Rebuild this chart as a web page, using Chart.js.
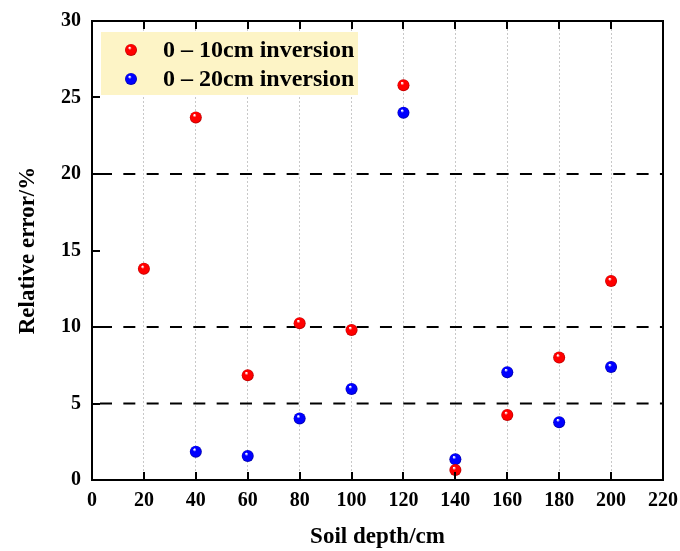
<!DOCTYPE html>
<html>
<head>
<meta charset="utf-8">
<script src="https://cdn.jsdelivr.net/npm/chart.js@4/dist/chart.umd.min.js"></script>
<style>
  html, body { margin: 0; background: #fff; }
  #wrap { width: 680px; height: 551px; }
</style>
</head>
<body>
<div id="wrap"><canvas id="chart"></canvas></div>
<script>
// ── Data ──────────────────────────────────────────────────────
const depths10 = [20, 40, 60, 80, 100, 120, 140, 160, 180, 200];
const err10    = [13.8, 23.7, 6.85, 10.25, 9.8, 25.8, 0.65, 4.25, 8.0, 13.0];

const depths20 = [40, 60, 80, 100, 120, 140, 160, 180, 200];
const err20    = [1.85, 1.57, 4.02, 5.95, 24.0, 1.35, 7.05, 3.78, 7.38];

const refLines = [5, 10, 20];          // dashed horizontal guides

const xMin = 0, xMax = 220, xStep = 20;
const yMin = 0, yMax = 30,  yStep = 5;

const FONT = '"Liberation Serif", "Times New Roman", serif';

// ── Shaded "sphere" fill for the markers ──────────────────────
function sphere(ctx, x, y, r, base, edge) {
  const g = ctx.createRadialGradient(x - r * 0.25, y - r * 0.4, r * 0.08, x, y, r);
  g.addColorStop(0,    '#ffffff');
  g.addColorStop(0.25, base);
  g.addColorStop(0.8,  base);
  g.addColorStop(1,    edge);
  return g;
}

function sphereFill(base, edge) {
  return function (c) {
    const chart = c.chart;
    if (!c.parsed || !chart.scales.x) return base;
    const px = chart.scales.x.getPixelForValue(c.parsed.x);
    const py = chart.scales.y.getPixelForValue(c.parsed.y);
    if (!isFinite(px) || !isFinite(py)) return base;
    return sphere(chart.ctx, px, py, 6, base, edge);
  };
}

const series = [
  { label: '0 – 10cm inversion', xs: depths10, ys: err10, base: '#ff0000', edge: '#b00000' },
  { label: '0 – 20cm inversion', xs: depths20, ys: err20, base: '#0000ff', edge: '#0000a0' },
];

// ── Frame, inward ticks and in-plot legend ────────────────────
const framePlugin = {
  id: 'frame',
  afterDraw(chart) {
    const { ctx, chartArea: a, scales: { x, y } } = chart;
    ctx.save();
    ctx.strokeStyle = '#000';
    ctx.lineWidth = 2;
    ctx.strokeRect(a.left, a.top, a.right - a.left, a.bottom - a.top);

    ctx.beginPath();
    x.ticks.forEach(t => {
      const px = Math.round(x.getPixelForValue(t.value));
      ctx.moveTo(px, a.bottom); ctx.lineTo(px, a.bottom - 8);
      ctx.moveTo(px, a.top);    ctx.lineTo(px, a.top + 8);
    });
    y.ticks.forEach(t => {
      const py = Math.round(y.getPixelForValue(t.value));
      ctx.moveTo(a.left, py); ctx.lineTo(a.left + 8, py);
    });
    ctx.stroke();

    // legend box
    ctx.fillStyle = '#fdf4c6';
    ctx.fillRect(a.left + 9, a.top + 11, 257, 63);
    ctx.font = 'bold 24px ' + FONT;
    ctx.textBaseline = 'middle';
    ctx.textAlign = 'left';
    series.forEach((s, i) => {
      const my = a.top + 29 + i * 29;
      const mx = a.left + 39;
      ctx.beginPath();
      ctx.fillStyle = sphere(ctx, mx, my, 6, s.base, s.edge);
      ctx.arc(mx, my, 6, 0, Math.PI * 2);
      ctx.fill();
      ctx.fillStyle = '#000';
      ctx.fillText(s.label, a.left + 71, my + 1);
    });
    ctx.restore();
  }
};

// ── Datasets ──────────────────────────────────────────────────
const guideSets = refLines.map(v => ({
  type: 'line',
  label: 'guide ' + v,
  data: [{ x: xMin, y: v }, { x: xMax, y: v }],
  borderColor: '#000',
  borderWidth: 2,
  borderDash: [12, 11.33],
  borderDashOffset: 15.33,
  pointRadius: 0,
  fill: false,
  order: 2,
}));

const pointSets = series.map(s => ({
  type: 'scatter',
  label: s.label,
  data: s.xs.map((d, i) => ({ x: d, y: s.ys[i] })),
  pointRadius: 6,
  pointHoverRadius: 6,
  pointBorderWidth: 0,
  pointBackgroundColor: sphereFill(s.base, s.edge),
  borderColor: 'transparent',
  order: 1,
}));

new Chart(document.getElementById('chart'), {
  data: { datasets: [...guideSets, ...pointSets] },
  options: {
    responsive: true,
    maintainAspectRatio: false,
    animation: false,
    layout: { padding: { top: 21, right: 17, left: 0, bottom: 0 } },
    plugins: {
      legend:  { display: false },
      tooltip: { enabled: false },
    },
    scales: {
      x: {
        type: 'linear',
        min: xMin, max: xMax,
        afterFit(scale) {
          scale.height = 71;
          scale.paddingLeft = 0;
          scale.paddingRight = 0;
        },
        ticks: {
          stepSize: xStep,
          padding: 9,
          color: '#000',
          font: { family: FONT, size: 20, weight: 'bold' },
        },
        grid: {
          color: '#c8c8c8',
          lineWidth: 1,
          drawTicks: false,
        },
        border: { display: false, dash: [2, 2] },
        title: {
          display: true,
          text: 'Soil depth/cm',
          color: '#000',
          font: { family: FONT, size: 23, weight: 'bold' },
          padding: { top: 0, bottom: 0 },
        },
      },
      y: {
        type: 'linear',
        min: yMin, max: yMax,
        afterFit(scale) {
          scale.width = 92;
          scale.paddingTop = 0;
          scale.paddingBottom = 0;
        },
        ticks: {
          stepSize: yStep,
          padding: 11,
          color: '#000',
          font: { family: FONT, size: 20, weight: 'bold' },
        },
        grid: { display: false, drawTicks: false },
        border: { display: false },
        title: {
          display: true,
          text: 'Relative error/%',
          color: '#000',
          font: { family: FONT, size: 23, weight: 'bold' },
          padding: { top: 14, bottom: 0 },
        },
      },
    },
  },
  plugins: [framePlugin],
});
</script>
</body>
</html>
